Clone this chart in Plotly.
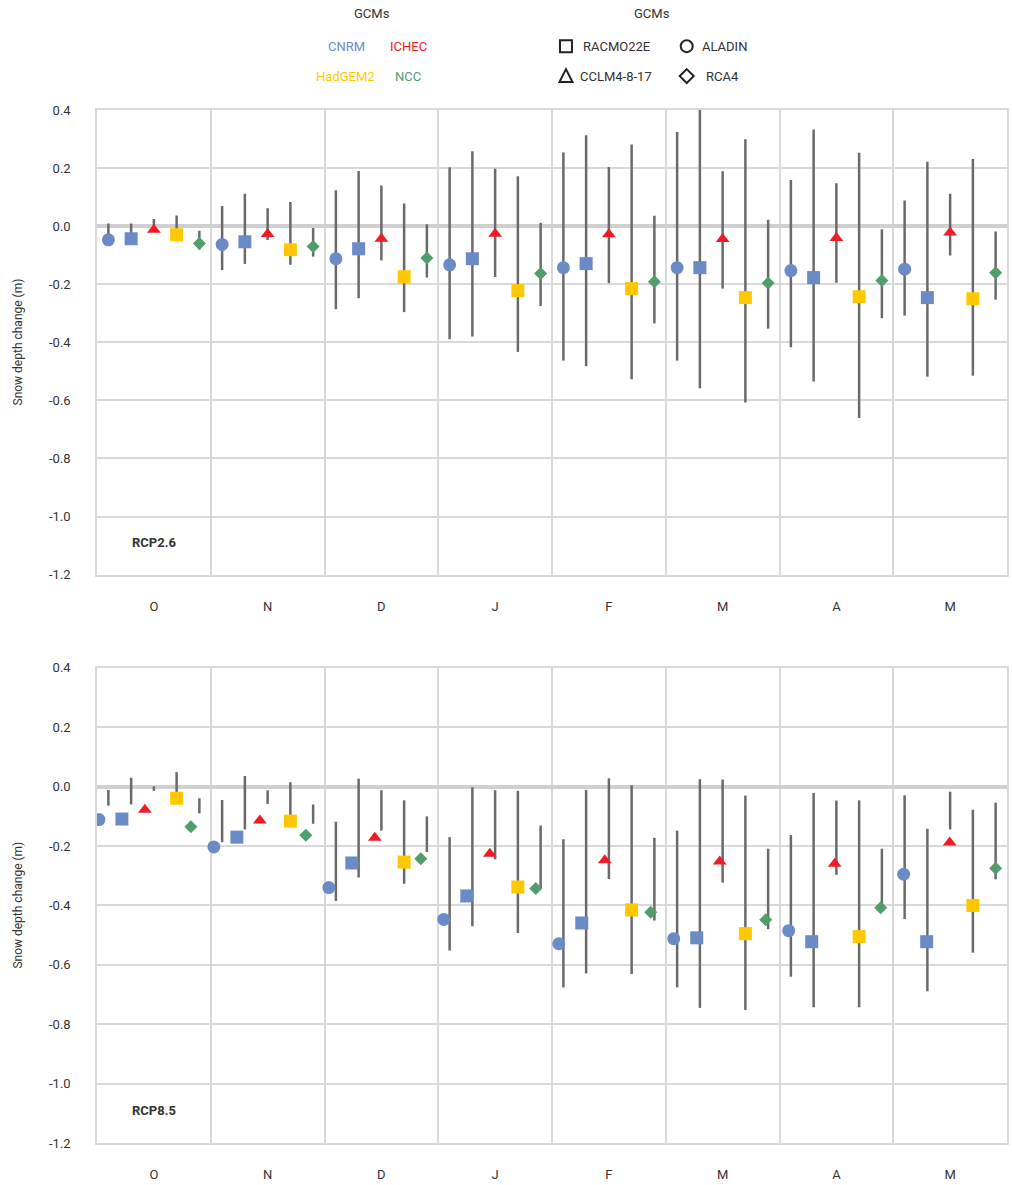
import plotly.graph_objects as go

# ---------------- data ----------------
months = ["O", "N", "D", "J", "F", "M", "A", "M"]
y_tick_vals = [0.4, 0.2, 0.0, -0.2, -0.4, -0.6, -0.8, -1.0, -1.2]
y_tick_text = ["0.4", "0.2", "0.0", "-0.2", "-0.4", "-0.6", "-0.8", "-1.0", "-1.2"]

# RCP2.6
cnrm_aladin_26 = [-0.047, -0.063, -0.112, -0.133, -0.143, -0.143, -0.153, -0.148]
cnrm_aladin_26_lo = [-0.060, -0.151, -0.286, -0.389, -0.463, -0.463, -0.417, -0.308]
cnrm_aladin_26_hi = [0.009, 0.069, 0.124, 0.203, 0.254, 0.324, 0.159, 0.088]

cnrm_racmo_26 = [-0.043, -0.054, -0.078, -0.112, -0.129, -0.143, -0.177, -0.246]
cnrm_racmo_26_lo = [-0.060, -0.130, -0.248, -0.380, -0.482, -0.558, -0.535, -0.518]
cnrm_racmo_26_hi = [0.009, 0.112, 0.190, 0.258, 0.313, 0.400, 0.333, 0.222]

ichec_cclm_26 = [-0.012, -0.027, -0.043, -0.026, -0.028, -0.044, -0.041, -0.022]
ichec_cclm_26_lo = [-0.020, -0.048, -0.118, -0.175, -0.196, -0.215, -0.195, -0.101]
ichec_cclm_26_hi = [0.025, 0.062, 0.140, 0.198, 0.204, 0.189, 0.148, 0.112]

hadgem_racmo_26 = [-0.030, -0.081, -0.174, -0.222, -0.215, -0.246, -0.243, -0.250]
hadgem_racmo_26_lo = [-0.045, -0.133, -0.296, -0.433, -0.527, -0.607, -0.661, -0.515]
hadgem_racmo_26_hi = [0.037, 0.083, 0.078, 0.172, 0.281, 0.299, 0.253, 0.231]

ncc_rca_26 = [-0.060, -0.070, -0.110, -0.163, -0.191, -0.196, -0.187, -0.160]
ncc_rca_26_lo = [-0.080, -0.105, -0.177, -0.275, -0.335, -0.353, -0.317, -0.253]
ncc_rca_26_hi = [-0.016, -0.006, 0.007, 0.012, 0.036, 0.022, -0.011, -0.018]

# RCP8.5
cnrm_aladin_85 = [-0.111, -0.203, -0.340, -0.447, -0.529, -0.512, -0.485, -0.295]
cnrm_aladin_85_lo = [-0.064, -0.187, -0.385, -0.552, -0.676, -0.676, -0.640, -0.446]
cnrm_aladin_85_hi = [-0.011, -0.045, -0.118, -0.170, -0.177, -0.148, -0.163, -0.029]

cnrm_racmo_85 = [-0.109, -0.170, -0.257, -0.368, -0.459, -0.509, -0.522, -0.522]
cnrm_racmo_85_lo = [-0.060, -0.144, -0.306, -0.470, -0.629, -0.745, -0.743, -0.689]
cnrm_racmo_85_hi = [0.030, 0.036, 0.027, -0.002, -0.011, 0.025, -0.021, -0.142]

ichec_cclm_85 = [-0.078, -0.114, -0.172, -0.226, -0.248, -0.252, -0.260, -0.188]
ichec_cclm_85_lo = [-0.014, -0.058, -0.148, -0.245, -0.311, -0.323, -0.297, -0.144]
ichec_cclm_85_hi = [0.001, -0.012, -0.012, -0.012, 0.028, 0.024, -0.047, -0.017]

hadgem_racmo_85 = [-0.039, -0.116, -0.254, -0.338, -0.415, -0.495, -0.505, -0.400]
hadgem_racmo_85_lo = [-0.055, -0.130, -0.327, -0.493, -0.631, -0.752, -0.743, -0.559]
hadgem_racmo_85_hi = [0.049, 0.015, -0.046, -0.014, 0.005, -0.030, -0.046, -0.078]

ncc_rca_85 = [-0.135, -0.164, -0.243, -0.343, -0.423, -0.448, -0.408, -0.275]
ncc_rca_85_lo = [-0.090, -0.125, -0.220, -0.345, -0.451, -0.480, -0.410, -0.312]
ncc_rca_85_hi = [-0.039, -0.060, -0.100, -0.131, -0.172, -0.209, -0.209, -0.054]

# ---------------- style / layout ----------------
BLUE = "#6b8bc7"
RED = "#ee1c25"
YELLOW = "#ffc800"
GREEN = "#4f9e6c"
RANGE_C = "#6a6a6a"
GRID = "#d9d9d9"
ZERO = "#d0d0d0"
TXT = "#333333"
FONT = "Roboto, Liberation Sans, sans-serif"

W, H = 1012, 1185
ML, MR, MT, MB = 97, 3, 110, 39
PW = W - ML - MR
PH = H - MT - MB


def pxx(x):
    return (x - ML) / PW


def pxy(y):
    return (H - MB - y) / PH


top_domain = [pxy(576), 1.0]
bot_domain = [0.0, pxy(669.5)]

series_26 = [
    (cnrm_aladin_26, cnrm_aladin_26_lo, cnrm_aladin_26_hi, BLUE, "circle", 13, -0.4, False),
    (cnrm_racmo_26, cnrm_racmo_26_lo, cnrm_racmo_26_hi, BLUE, "square", 13, -0.2, False),
    (ichec_cclm_26, ichec_cclm_26_lo, ichec_cclm_26_hi, RED, "triangle-up", 12, 0.0, False),
    (hadgem_racmo_26, hadgem_racmo_26_lo, hadgem_racmo_26_hi, YELLOW, "square", 13, 0.2, False),
    (ncc_rca_26, ncc_rca_26_lo, ncc_rca_26_hi, GREEN, "diamond", 10, 0.4, False),
]
series_85 = [
    (cnrm_aladin_85, cnrm_aladin_85_lo, cnrm_aladin_85_hi, BLUE, "circle", 13, -0.4, True),
    (cnrm_racmo_85, cnrm_racmo_85_lo, cnrm_racmo_85_hi, BLUE, "square", 13, -0.2, True),
    (ichec_cclm_85, ichec_cclm_85_lo, ichec_cclm_85_hi, RED, "triangle-up", 12, 0.0, True),
    (hadgem_racmo_85, hadgem_racmo_85_lo, hadgem_racmo_85_hi, YELLOW, "square", 13, 0.2, False),
    (ncc_rca_85, ncc_rca_85_lo, ncc_rca_85_hi, GREEN, "diamond", 10, 0.4, True),
]

fig = go.Figure()


def add_panel(series, xa, ya):
    # range lines first
    lx, ly = [], []
    for vals, lo, hi, col, sym, size, off, shifted in series:
        for i in range(len(months)):
            p = i + off
            lx += [p, p, None]
            ly += [lo[i], hi[i], None]
    fig.add_trace(go.Scatter(x=lx, y=ly, mode="lines",
                             line=dict(color=RANGE_C, width=2.5),
                             xaxis=xa, yaxis=ya, hoverinfo="skip", showlegend=False))
    for vals, lo, hi, col, sym, size, off, shifted in series:
        xs = []
        for i in range(len(months)):
            p = i + off
            if shifted:
                p = -0.079 + 1.0107 * p
            xs.append(p)
        fig.add_trace(go.Scatter(x=xs, y=vals, mode="markers",
                                 marker=dict(symbol=sym, size=size, color=col, line=dict(width=0)),
                                 xaxis=xa, yaxis=ya, showlegend=False))


add_panel(series_26, "x", "y")
add_panel(series_85, "x2", "y2")


def xaxis_def(anchor):
    return dict(domain=[0, 1], anchor=anchor, range=[-0.5, 7.5],
                tickmode="array", tickvals=list(range(len(months))), ticktext=months,
                showgrid=False, zeroline=False, showline=True, mirror=True,
                linecolor=GRID, linewidth=1.5, ticks="",
                minor=dict(tickmode="linear", tick0=0.5, dtick=1, showgrid=True,
                           gridcolor=GRID, gridwidth=1.5, ticks=""),
                tickfont=dict(family=FONT, size=13, color=TXT),
                ticklabelstandoff=19, fixedrange=True)


def yaxis_def(anchor, domain):
    return dict(domain=domain, anchor=anchor, range=[-1.2, 0.4],
                tickmode="array", tickvals=y_tick_vals, ticktext=y_tick_text,
                showgrid=True, gridcolor=GRID, gridwidth=1.5,
                zeroline=True, zerolinecolor=ZERO, zerolinewidth=4,
                showline=True, mirror=True, linecolor=GRID, linewidth=1.5, ticks="",
                tickfont=dict(family=FONT, size=13, color=TXT),
                ticklabelstandoff=22, fixedrange=True)


fig.update_layout(
    width=W, height=H,
    margin=dict(l=ML, r=MR, t=MT, b=MB, pad=0),
    paper_bgcolor="white", plot_bgcolor="white",
    font=dict(family=FONT, size=13, color=TXT),
    xaxis=xaxis_def("y"), yaxis=yaxis_def("x", top_domain),
    xaxis2=xaxis_def("y2"), yaxis2=yaxis_def("x2", bot_domain),
    showlegend=False,
)

ann = []
# y axis titles
for dom in (top_domain, bot_domain):
    ann.append(dict(text="Snow depth change (m)", textangle=-90, xref="paper", yref="paper",
                    x=pxx(18), y=(dom[0] + dom[1]) / 2, xanchor="center", yanchor="middle",
                    showarrow=False, font=dict(family=FONT, size=12, color=TXT)))
# panel labels
ann.append(dict(text="<b>RCP2.6</b>", xref="x", yref="y", x=0, y=-1.09, showarrow=False,
                font=dict(family=FONT, size=13, color=TXT)))
ann.append(dict(text="<b>RCP8.5</b>", xref="x2", yref="y2", x=0, y=-1.09, showarrow=False,
                font=dict(family=FONT, size=13, color=TXT)))

# legend texts
legend_texts = [
    ("GCMs", 373, 13, TXT), ("CNRM", 347, 46, BLUE), ("ICHEC", 409, 46, RED),
    ("HadGEM2", 346, 76, YELLOW), ("NCC", 409, 76, GREEN),
    ("GCMs", 653, 13, TXT), ("RACMO22E", 618, 46, TXT), ("ALADIN", 726, 46, TXT),
    ("CCLM4-8-17", 617, 76, TXT), ("RCA4", 724, 76, TXT),
]
for t, x, y, c in legend_texts:
    ann.append(dict(text=t, xref="paper", yref="paper", x=pxx(x), y=pxy(y),
                    xanchor="center", yanchor="middle", showarrow=False,
                    font=dict(family=FONT, size=13, color=c)))
fig.update_layout(annotations=ann)

# legend glyphs (outline symbols)
shapes = []
LW = 2
ln = dict(color="#222222", width=LW)
s = 6
shapes.append(dict(type="rect", xref="paper", yref="paper",
                   x0=pxx(567 - s), x1=pxx(567 + s), y0=pxy(46 + s), y1=pxy(46 - s), line=ln))
shapes.append(dict(type="circle", xref="paper", yref="paper",
                   x0=pxx(688 - s), x1=pxx(688 + s), y0=pxy(46 + s), y1=pxy(46 - s), line=ln))


def path(points):
    return "M " + " L ".join(f"{pxx(a):.5f},{pxy(b):.5f}" for a, b in points) + " Z"


shapes.append(dict(type="path", xref="paper", yref="paper",
                   path=path([(567 - 6.5, 76 + 6), (567 + 6.5, 76 + 6), (567, 76 - 7)]), line=ln))
shapes.append(dict(type="path", xref="paper", yref="paper",
                   path=path([(688, 76 - 7), (688 + 7, 76), (688, 76 + 7), (688 - 7, 76)]), line=ln))
fig.update_layout(shapes=shapes)

fig.write_html("out.html")
